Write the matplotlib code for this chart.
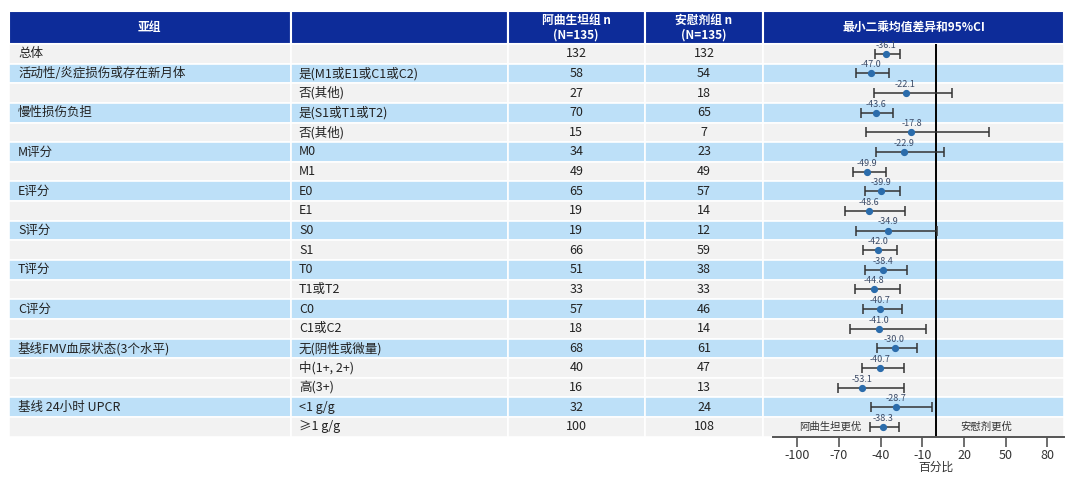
import numpy as np
import matplotlib
matplotlib.use("Agg")
import matplotlib.pyplot as plt
from matplotlib.patches import Rectangle
import matplotlib.transforms as mtrans

plt.rcParams['font.family'] = ['Noto Sans CJK SC', 'DejaVu Sans']
plt.rcParams['axes.unicode_minus'] = False

# ---- data ----
subgroups = ['总体', '活动性/炎症损伤或存在新月体', '', '慢性损伤负担', '', 'M评分', '',
             'E评分', '', 'S评分', '', 'T评分', '', 'C评分', '',
             '基线FMV血尿状态(3个水平)', '', '', '基线 24小时 UPCR', '']
levels = ['', '是(M1或E1或C1或C2)', '否(其他)', '是(S1或T1或T2)', '否(其他)', 'M0', 'M1',
          'E0', 'E1', 'S0', 'S1', 'T0', 'T1或T2', 'C0', 'C1或C2',
          '无(阴性或微量)', '中(1+, 2+)', '高(3+)', '<1 g/g', '≥1 g/g']
n_atrasentan = [132, 58, 27, 70, 15, 34, 49, 65, 19, 19, 66, 51, 33, 57, 18, 68, 40, 16, 32, 100]
n_placebo = [132, 54, 18, 65, 7, 23, 49, 57, 14, 12, 59, 38, 33, 46, 14, 61, 47, 13, 24, 108]
ls_diff = [-36.1, -47.0, -22.1, -43.6, -17.8, -22.9, -49.9, -39.9, -48.6, -34.9,
           -42.0, -38.4, -44.8, -40.7, -41.0, -30.0, -40.7, -53.1, -28.7, -38.3]
ci_low = [-44.3, -57.5, -44.6, -53.9, -50.8, -43.1, -60.1, -51.3, -65.4, -57.7,
          -52.9, -51.3, -58.2, -52.9, -62.1, -42.6, -53.6, -70.7, -47.2, -47.4]
ci_high = [-26.3, -34.2, 11.4, -30.9, 38.2, 5.4, -36.4, -25.8, -22.2, 0.6,
           -28.0, -21.0, -25.8, -24.4, -7.3, -14.0, -23.2, -23.4, -3.0, -26.8]
headers = ['亚组', '', '阿曲生坦组 n\n(N=135)', '安慰剂组 n\n(N=135)', '最小二乘均值差异和95%CI']
xticks = [-100, -70, -40, -10, 20, 50, 80]

# ---- layout (pixels) ----
W, H = 1080, 479
col_edges = [9, 290.5, 507.5, 645, 763, 1064]
head_top, head_bot = 11, 44
row_bot = 436.7
nrows = len(levels)
rh = (row_bot - head_bot) / nrows

NAVY = '#0d2c99'
BLUE = '#bde0f8'
GREY = '#f2f2f2'
TXT = '#222222'

fig = plt.figure(figsize=(W / 100, H / 100), dpi=100)
bg = fig.add_axes([0, 0, 1, 1])
bg.set_xlim(0, W)
bg.set_ylim(H, 0)
bg.axis('off')

# header
for j in range(5):
    x0, x1 = col_edges[j], col_edges[j + 1]
    bg.add_patch(Rectangle((x0, head_top), x1 - x0, head_bot - head_top,
                           facecolor=NAVY, edgecolor='white', lw=1.5))
    bg.text((x0 + x1) / 2, (head_top + head_bot) / 2, headers[j], color='white',
            fontsize=8.5, fontweight='bold', ha='center', va='center', linespacing=1.2)

# body rows
for i in range(nrows):
    yc = head_bot + (i + 0.5) * rh
    color = BLUE if (i > 0 and subgroups[i] != '') else GREY
    for j in range(5):
        x0, x1 = col_edges[j], col_edges[j + 1]
        bg.add_patch(Rectangle((x0, head_bot + i * rh), x1 - x0, rh,
                               facecolor=color, edgecolor='white', lw=1.2))
    bg.text(18, yc, subgroups[i], fontsize=9, color=TXT, ha='left', va='center')
    bg.text(299, yc, levels[i], fontsize=9, color=TXT, ha='left', va='center')
    bg.text((col_edges[2] + col_edges[3]) / 2, yc, str(n_atrasentan[i]), fontsize=9,
            color=TXT, ha='center', va='center')
    bg.text((col_edges[3] + col_edges[4]) / 2, yc, str(n_placebo[i]), fontsize=9,
            color=TXT, ha='center', va='center')

# ---- forest panel ----
ax = fig.add_axes([col_edges[4] / W, (H - row_bot) / H,
                   (col_edges[5] - col_edges[4]) / W, (row_bot - head_bot) / H])
ax.patch.set_alpha(0)
xmin, xmax = -124.7, 92.0
ax.set_xlim(xmin, xmax)
ax.set_ylim(nrows - 0.5, -0.5)

ypos = np.arange(nrows)
diff = np.array(ls_diff)
lo = np.array(ci_low)
hi = np.array(ci_high)
ax.errorbar(diff, ypos, xerr=[diff - lo, hi - diff], fmt='none', ecolor='#333333',
            elinewidth=1.1, capsize=3.5, capthick=1.1, zorder=3)
ax.plot(diff, ypos, 'o', color='#2b6cab', markersize=4.2, zorder=4)
for d, y in zip(ls_diff, ypos):
    t = ax.annotate(f'{d:.1f}', (d, y), xytext=(0, 6.2), textcoords='offset points',
                    ha='center', va='center', fontsize=6.5, color='#3b4a66', zorder=5)
    t.set_clip_on(True)

ax.axvline(0, color='black', lw=1.4, zorder=2)

ax.text(-76, nrows - 1, '阿曲生坦更优', fontsize=7.5, color='#333333', ha='center', va='center')
ax.text(36, nrows - 1, '安慰剂更优', fontsize=7.5, color='#333333', ha='center', va='center')

for s in ['top', 'right', 'left']:
    ax.spines[s].set_visible(False)
ax.spines['bottom'].set_bounds(-117.7, xmax)
ax.spines['bottom'].set_color('#555555')
ax.spines['bottom'].set_linewidth(1.4)
ax.set_yticks([])
ax.set_xticks(xticks)
ax.tick_params(axis='x', direction='out', length=7, width=1.2, color='#555555',
               labelsize=9, labelcolor='#333333', pad=2)

trans = mtrans.blended_transform_factory(ax.transData, fig.transFigure)
ax.text(0, (H - 467) / H, '百分比', transform=trans, fontsize=8.5, color='#333333',
        ha='center', va='center')

fig.savefig('out.png', dpi=100, facecolor='white')
